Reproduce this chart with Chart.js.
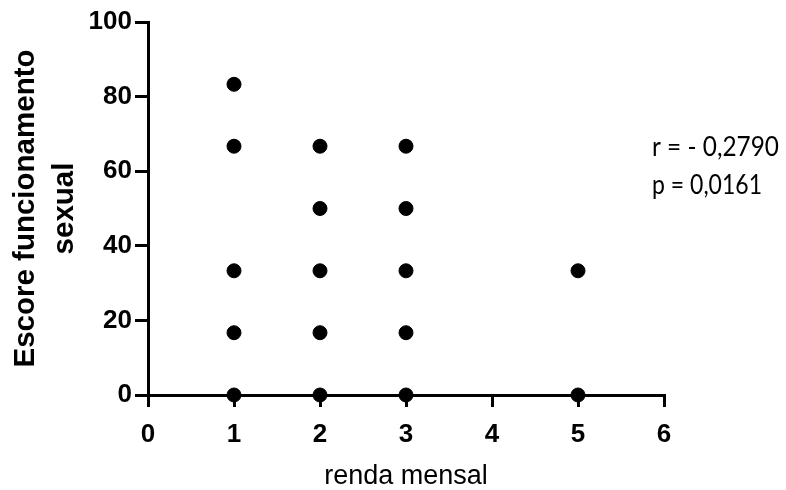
<!DOCTYPE html>
<html>
<head>
<meta charset="utf-8">
<script src="https://cdn.jsdelivr.net/npm/chart.js@4.4.0/dist/chart.umd.min.js"></script>
<style>
    html, body { margin: 0; padding: 0; background: #fff; }
    #wrap { width: 786px; height: 490px; position: relative; }
</style>
</head>
<body>
<div id="wrap"><canvas id="scatterChart"></canvas></div>
<script>
// Data
const rendaValues = [1, 1, 1, 1, 1, 2, 2, 2, 2, 2, 3, 3, 3, 3, 3, 5, 5];
const escoreValues = [83.3, 66.7, 33.3, 16.7, 0, 66.7, 50, 33.3, 16.7, 0, 66.7, 50, 33.3, 16.7, 0, 33.3, 0];
const xTicks = [0, 1, 2, 3, 4, 5, 6];
const yTicks = [0, 20, 40, 60, 80, 100];
const statLines = ["r = - 0,2790", "p = 0,0161"];

const points = rendaValues.map((x, i) => ({ x: x, y: escoreValues[i] }));

// Correlation text on the right side
const statsText = {
    id: "statsText",
    afterDraw(chart) {
        const ctx = chart.ctx;
        ctx.save();
        ctx.fillStyle = "#000";
        ctx.font = "26px Lato";
        ctx.textAlign = "left";
        ctx.textBaseline = "alphabetic";
        ctx.fillText(statLines[0], 652, 156, 127);
        ctx.fillText(statLines[1], 652, 194, 110);
        ctx.restore();
    }
};

new Chart(document.getElementById("scatterChart"), {
    type: "scatter",
    data: {
        datasets: [{
            data: points,
            backgroundColor: "#000",
            borderColor: "#000",
            pointRadius: 7,
            pointHoverRadius: 7,
            clip: false
        }]
    },
    options: {
        responsive: true,
        maintainAspectRatio: false,
        animation: false,
        layout: { padding: { top: 22, right: 122, left: 0, bottom: 0 } },
        plugins: {
            legend: { display: false },
            tooltip: { enabled: false }
        },
        scales: {
            x: {
                type: "linear",
                min: 0,
                max: 6,
                afterBuildTicks: (axis) => { axis.ticks = xTicks.map(v => ({ value: v })); },
                afterFit: (axis) => { axis.height = 95; },
                border: { display: true, color: "#000", width: 3 },
                grid: { drawOnChartArea: false, drawTicks: true, tickLength: 12, color: "#000", lineWidth: 3 },
                ticks: { color: "#000", padding: 12, font: { family: "'Liberation Sans', Arial", size: 26, weight: "bold" } },
                title: {
                    display: true,
                    text: "renda mensal",
                    color: "#000",
                    padding: { top: 0, bottom: 0 },
                    font: { family: "'Liberation Sans', Arial", size: 27, weight: "normal", lineHeight: 1 }
                }
            },
            y: {
                type: "linear",
                min: 0,
                max: 100,
                afterBuildTicks: (axis) => { axis.ticks = yTicks.map(v => ({ value: v })); },
                afterFit: (axis) => { axis.width = 148; },
                border: { display: true, color: "#000", width: 3 },
                grid: { drawOnChartArea: false, drawTicks: true, tickLength: 13, color: "#000", lineWidth: 3 },
                ticks: { color: "#000", padding: 3, font: { family: "'Liberation Sans', Arial", size: 26, weight: "bold" } },
                title: {
                    display: true,
                    text: ["Escore funcionamento", "sexual"],
                    color: "#000",
                    padding: { top: 7, bottom: 0 },
                    font: { family: "'Liberation Sans', Arial", size: 29.5, weight: "bold", lineHeight: 1.3 }
                }
            }
        }
    },
    plugins: [statsText]
});
</script>
</body>
</html>
